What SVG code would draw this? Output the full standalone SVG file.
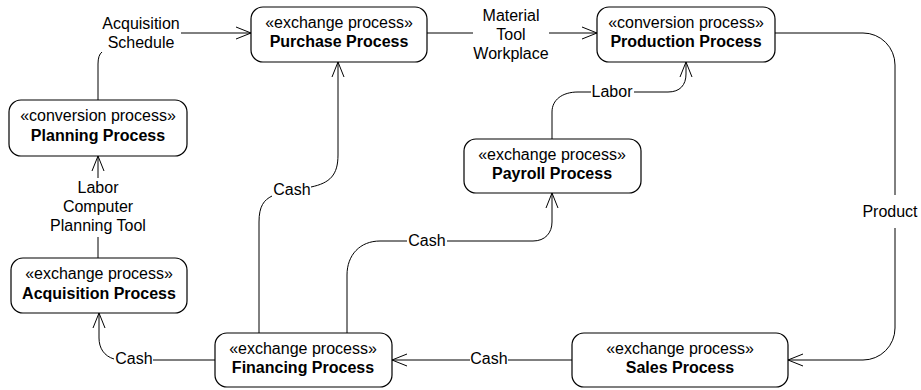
<svg xmlns="http://www.w3.org/2000/svg" width="921" height="390" viewBox="0 0 921 390">
  <style>
    .box { fill: #ffffff; stroke: #000000; stroke-width: 1.2; }
    .st { font-family: "Liberation Sans", Arial, sans-serif; font-size: 16px; fill: #000; text-anchor: middle; }
    .nm { font-family: "Liberation Sans", Arial, sans-serif; font-size: 16px; font-weight: bold; fill: #000; text-anchor: middle; }
    .lbl { font-family: "Liberation Sans", Arial, sans-serif; font-size: 16px; fill: #000; text-anchor: middle; }
    .edge { fill: none; stroke: #000; stroke-width: 1; }
  </style>
  <defs>
    <marker id="open" viewBox="0 0 15 12" refX="15" refY="6" markerWidth="15" markerHeight="12" markerUnits="userSpaceOnUse" orient="auto" overflow="visible">
      <path d="M0,0 L15,6 L0,12" fill="none" stroke="#000" stroke-width="1"/>
    </marker>
  </defs>
  <rect width="921" height="390" fill="#ffffff"/>

  <g id="connectors">
    <!-- Planning -> Purchase -->
    <path class="edge" d="M98,100 V64 Q98,55 102,52"/>
    <path class="edge" d="M181,33 H251" marker-end="url(#open)"/>
    <text class="lbl" x="141" y="29">Acquisition</text>
    <text class="lbl" x="141" y="48">Schedule</text>

    <!-- Purchase -> Production -->
    <path class="edge" d="M427,33 H473"/>
    <path class="edge" d="M549,33 H597" marker-end="url(#open)"/>
    <text class="lbl" x="511" y="21">Material</text>
    <text class="lbl" x="511" y="40">Tool</text>
    <text class="lbl" x="511" y="59">Workplace</text>

    <!-- Production -> Sales -->
    <path class="edge" d="M775,33 H863 A32,32 0 0 1 895,65 V195"/>
    <path class="edge" d="M895,228 V328 A32,32 0 0 1 863,360 H788" marker-end="url(#open)"/>
    <text class="lbl" x="890" y="217">Product</text>

    <!-- Sales -> Financing -->
    <path class="edge" d="M572,360 H508"/>
    <path class="edge" d="M470,360 H392" marker-end="url(#open)"/>
    <text class="lbl" x="489" y="364">Cash</text>

    <!-- Financing -> Acquisition -->
    <path class="edge" d="M215,360 H153"/>
    <path class="edge" d="M114,359 C104,356 99,348 99,338 V313" marker-end="url(#open)"/>
    <text class="lbl" x="134" y="364">Cash</text>

    <!-- Financing -> Purchase -->
    <path class="edge" d="M259,333 V222 C259,206 264,200 272,196"/>
    <path class="edge" d="M311,187 C330,183 338,175 338,155 V62" marker-end="url(#open)"/>
    <text class="lbl" x="292" y="195">Cash</text>

    <!-- Financing -> Payroll -->
    <path class="edge" d="M347,333 V275 C347,255 360,241 380,241 H407"/>
    <path class="edge" d="M447,241 H533 C545,241 552,233 552,222 V193" marker-end="url(#open)"/>
    <text class="lbl" x="427" y="246">Cash</text>

    <!-- Payroll -> Production -->
    <path class="edge" d="M552,139 V112 C552,100 562,92 578,92 H591"/>
    <path class="edge" d="M634,92 H668 C680,92 686,85 686,74 V62" marker-end="url(#open)"/>
    <text class="lbl" x="612" y="97">Labor</text>

    <!-- Acquisition -> Planning -->
    <path class="edge" d="M98,258 V237"/>
    <path class="edge" d="M98,178 V156" marker-end="url(#open)"/>
    <text class="lbl" x="98" y="193">Labor</text>
    <text class="lbl" x="98" y="212">Computer</text>
    <text class="lbl" x="98" y="231">Planning Tool</text>
  </g>

  <g id="purchase">
    <rect class="box" x="251" y="7" width="176" height="55" rx="12"/>
    <text class="st" x="339" y="28">«exchange process»</text>
    <text class="nm" x="339" y="47">Purchase Process</text>
  </g>
  <g id="production">
    <rect class="box" x="597" y="7" width="178" height="55" rx="12"/>
    <text class="st" x="686" y="28">«conversion process»</text>
    <text class="nm" x="686" y="47">Production Process</text>
  </g>
  <g id="planning">
    <rect class="box" x="9" y="100" width="178" height="56" rx="12"/>
    <text class="st" x="98" y="121">«conversion process»</text>
    <text class="nm" x="98" y="141">Planning Process</text>
  </g>
  <g id="payroll">
    <rect class="box" x="464" y="139" width="177" height="54" rx="12"/>
    <text class="st" x="552" y="160">«exchange process»</text>
    <text class="nm" x="552" y="179">Payroll Process</text>
  </g>
  <g id="acquisition">
    <rect class="box" x="11" y="258" width="176" height="55" rx="12"/>
    <text class="st" x="99" y="279">«exchange process»</text>
    <text class="nm" x="99" y="299">Acquisition Process</text>
  </g>
  <g id="financing">
    <rect class="box" x="215" y="333" width="177" height="54" rx="12"/>
    <text class="st" x="303" y="354">«exchange process»</text>
    <text class="nm" x="303" y="373">Financing Process</text>
  </g>
  <g id="sales">
    <rect class="box" x="572" y="333" width="216" height="54" rx="12"/>
    <text class="st" x="680" y="354">«exchange process»</text>
    <text class="nm" x="680" y="373">Sales Process</text>
  </g>
</svg>
